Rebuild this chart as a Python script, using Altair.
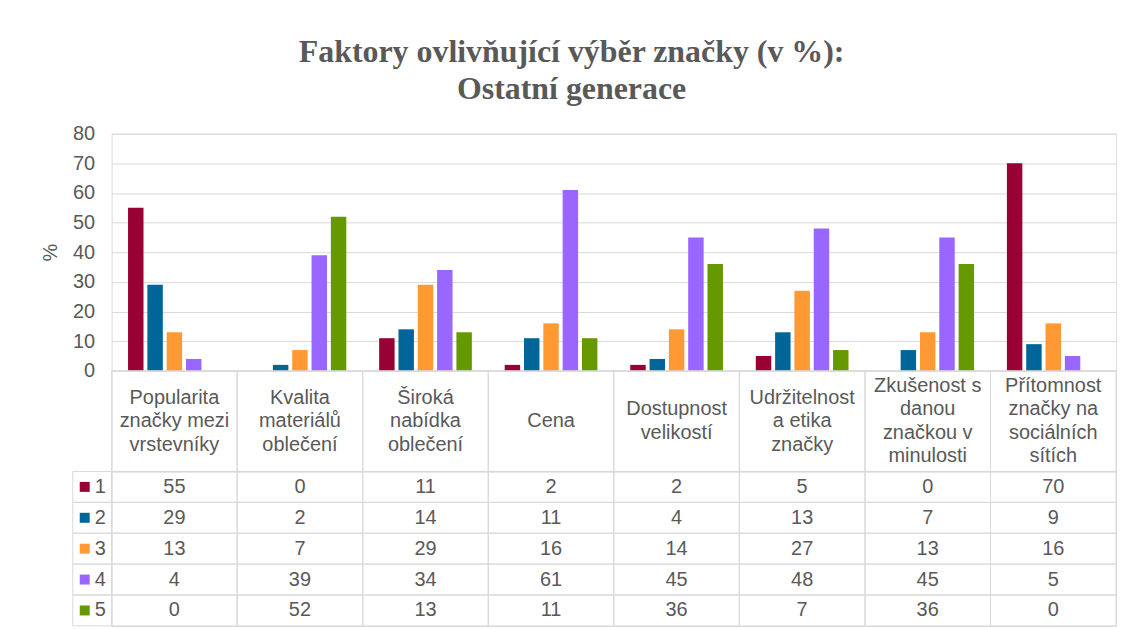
import altair as alt
import pandas as pd

categories = [
    "Popularita značky mezi vrstevníky",
    "Kvalita materiálů oblečení",
    "Široká nabídka oblečení",
    "Cena",
    "Dostupnost velikostí",
    "Udržitelnost a etika značky",
    "Zkušenost s danou značkou v minulosti",
    "Přítomnost značky na sociálních sítích",
]
header_lines = [
    ["Popularita", "značky mezi", "vrstevníky"],
    ["Kvalita", "materiálů", "oblečení"],
    ["Široká", "nabídka", "oblečení"],
    ["Cena"],
    ["Dostupnost", "velikostí"],
    ["Udržitelnost", "a etika", "značky"],
    ["Zkušenost s", "danou", "značkou v", "minulosti"],
    ["Přítomnost", "značky na", "sociálních", "sítích"],
]
series = ["1", "2", "3", "4", "5"]
s1 = [55, 0, 11, 2, 2, 5, 0, 70]
s2 = [29, 2, 14, 11, 4, 13, 7, 9]
s3 = [13, 7, 29, 16, 14, 27, 13, 16]
s4 = [4, 39, 34, 61, 45, 48, 45, 5]
s5 = [0, 52, 13, 11, 36, 7, 36, 0]
colors = ["#990033", "#006699", "#FF9933", "#9966FF", "#669900"]
y_ticks = [0, 10, 20, 30, 40, 50, 60, 70, 80]

rows = []
for s, vals in zip(series, [s1, s2, s3, s4, s5]):
    for c, v in zip(categories, vals):
        rows.append({"cat": c, "series": s, "value": v})
df = pd.DataFrame(rows)

hrows = []
for c, lines in zip(categories, header_lines):
    n = len(lines)
    for i, ln in enumerate(lines):
        hrows.append({"cat": c, "line": ln, "pos": (n - 1) / 2 - i})
hdf = pd.DataFrame(hrows)
cdf = pd.DataFrame({"cat": categories})
ldf = pd.DataFrame({"series": series})

TXT = "#595959"
GRID = "#d9d9d9"
FONT = "Liberation Sans"
W = 1008
HH = 101
LH = 23.5

xscale = alt.Scale(domain=categories, paddingInner=0, paddingOuter=0)

bars = alt.Chart(df).mark_bar().encode(
    x=alt.X("cat:N", sort=categories, scale=xscale, axis=None),
    xOffset=alt.XOffset("series:N", sort=series,
                        scale=alt.Scale(domain=series, paddingInner=0.2, paddingOuter=0.85)),
    y=alt.Y("value:Q", scale=alt.Scale(domain=[0, 80]),
            axis=alt.Axis(values=y_ticks, title="%", grid=True, gridColor=GRID,
                          domain=False, ticks=False, labelPadding=17,
                          labelFontSize=20, labelColor=TXT, labelFont=FONT,
                          titleFontSize=20, titleColor=TXT, titleFont=FONT,
                          titleFontWeight="normal", titlePadding=12)),
    color=alt.Color("series:N", scale=alt.Scale(domain=series, range=colors), legend=None),
).properties(width=W, height=238)

hdr_box = alt.Chart(cdf).mark_rect(fill="transparent", stroke=GRID, strokeWidth=1).encode(
    x=alt.X("cat:N", sort=categories, scale=xscale, axis=None),
)
half = HH / 2 / LH
hdr_txt = alt.Chart(hdf).mark_text(fontSize=20, color=TXT, font=FONT, baseline="middle").encode(
    x=alt.X("cat:N", sort=categories, scale=xscale, axis=None),
    y=alt.Y("pos:Q", scale=alt.Scale(domain=[-half, half]), axis=None),
    text="line:N",
)
header = alt.layer(hdr_box, hdr_txt).properties(width=W, height=HH)

yrow = alt.Scale(domain=series, paddingInner=0, paddingOuter=0)
cell_box = alt.Chart(df).mark_rect(fill="transparent", stroke=GRID, strokeWidth=1).encode(
    x=alt.X("cat:N", sort=categories, scale=xscale, axis=None),
    y=alt.Y("series:N", sort=series, scale=yrow, axis=None),
)
cell_txt = alt.Chart(df).mark_text(fontSize=20, color=TXT, font=FONT, baseline="middle").encode(
    x=alt.X("cat:N", sort=categories, scale=xscale, axis=None),
    y=alt.Y("series:N", sort=series, scale=yrow, axis=None),
    text="value:Q",
)
leg_box = alt.Chart(ldf).mark_rect(fill="transparent", stroke=GRID, strokeWidth=1).encode(
    x=alt.value(-39), x2=alt.value(0),
    y=alt.Y("series:N", sort=series, scale=yrow, axis=None),
)
leg_sw = alt.Chart(ldf).mark_square(size=100, opacity=1).encode(
    x=alt.value(-27),
    y=alt.Y("series:N", sort=series, scale=yrow, axis=None),
    color=alt.Color("series:N", scale=alt.Scale(domain=series, range=colors), legend=None),
)
leg_txt = alt.Chart(ldf).mark_text(fontSize=20, color=TXT, font=FONT, baseline="middle").encode(
    x=alt.value(-11.5),
    y=alt.Y("series:N", sort=series, scale=yrow, axis=None),
    text="series:N",
)
table = alt.layer(cell_box, cell_txt, leg_box, leg_sw, leg_txt).properties(width=W, height=155)

chart = alt.vconcat(bars, header, table, spacing=0, bounds="flush").resolve_scale(
    y="independent"
).properties(
    title=alt.TitleParams(
        text=["Faktory ovlivňující výběr značky (v %):", "Ostatní generace"],
        font="Liberation Serif", fontSize=32, fontWeight="bold", color=TXT,
        lineHeight=37, anchor="middle", offset=17, dx=-7,
    ),
    padding={"left": 32, "top": 27, "right": 5, "bottom": 0},
).configure_view(stroke=None).configure(background="white")

chart.save("out.html", embed_options={"renderer": "svg", "actions": False})
